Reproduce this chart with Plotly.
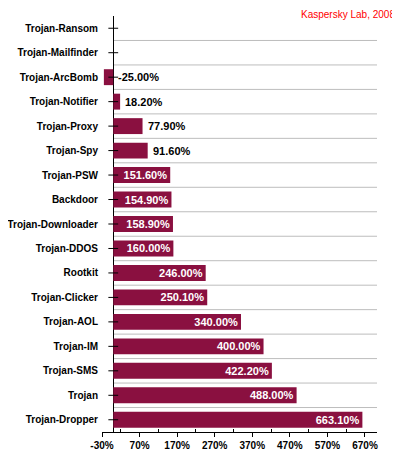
import plotly.graph_objects as go

categories = ["Trojan-Ransom", "Trojan-Mailfinder", "Trojan-ArcBomb", "Trojan-Notifier",
              "Trojan-Proxy", "Trojan-Spy", "Trojan-PSW", "Backdoor", "Trojan-Downloader",
              "Trojan-DDOS", "Rootkit", "Trojan-Clicker", "Trojan-AOL", "Trojan-IM",
              "Trojan-SMS", "Trojan", "Trojan-Dropper"]
growth = [None, None, -25.0, 18.2, 77.9, 91.6, 151.6, 154.9, 158.9, 160.0, 246.0,
          250.1, 340.0, 400.0, 422.2, 488.0, 663.1]
x_tick_values = [-30, 70, 170, 270, 370, 470, 570, 670]
x_tick_labels = ["-30%", "70%", "170%", "270%", "370%", "470%", "570%", "670%"]
source_label = "Kaspersky Lab, 2008"

XMIN, XMAX = -30, 702
BAR_COLOR = "#8a1040"
FONT = "Liberation Sans, Arial, sans-serif"
INSIDE_MIN = 150
N = len(categories)

inside_text = [f"{v:.2f}%" if (v is not None and v >= INSIDE_MIN) else "" for v in growth]

fig = go.Figure()
fig.add_trace(go.Bar(
    x=growth, y=categories, orientation="h",
    marker=dict(color=BAR_COLOR, line=dict(width=0)),
    text=inside_text, textposition="inside", insidetextanchor="end",
    textfont=dict(family=FONT, size=11, color="white", weight="bold"),
    constraintext="none", cliponaxis=False, hoverinfo="x+y",
))
# tick crosses on the vertical axis at zero
fig.add_trace(go.Scatter(
    x=[0] * N, y=categories, mode="markers",
    marker=dict(symbol="line-ew", size=7, line=dict(color="black", width=1)),
    hoverinfo="skip", showlegend=False, cliponaxis=False,
))

shapes = []
for i in range(N - 1):
    shapes.append(dict(type="line", xref="x", yref="y", x0=0, x1=XMAX,
                       y0=i + 0.5, y1=i + 0.5, line=dict(color="#bdbdbd", width=1),
                       layer="below"))

annotations = []
for c, v in zip(categories, growth):
    if v is not None and v < INSIDE_MIN:
        annotations.append(dict(x=max(v, 0), y=c, xref="x", yref="y", text=f"{v:.2f}%",
                                showarrow=False, xanchor="left", xshift=3,
                                font=dict(family=FONT, size=11, color="black", weight="bold")))

annotations.append(dict(text=source_label, xref="paper", yref="paper", x=1, y=1,
                        xanchor="right", yanchor="middle", xshift=20, yshift=2,
                        showarrow=False,
                        font=dict(family=FONT, size=10, color="#ff0000")))

fig.update_layout(
    width=392, height=442,
    autosize=False,
    margin=dict(l=94, r=23, t=8, b=18, pad=0, autoexpand=False),
    paper_bgcolor="white", plot_bgcolor="white",
    bargap=0.35, showlegend=False,
    shapes=shapes, annotations=annotations,
    xaxis=dict(range=[XMIN, XMAX], tickmode="array", tickvals=x_tick_values,
               ticktext=x_tick_labels, ticks="outside", ticklen=4, tickcolor="black",
               showline=True, linecolor="black", linewidth=1, showgrid=False,
               zeroline=True, zerolinecolor="black", zerolinewidth=1, automargin=False,
               tickfont=dict(family=FONT, size=10, color="black", weight="bold"),
               minor=dict(tick0=20, dtick=100, ticks="inside", ticklen=3, tickcolor="black"),
               fixedrange=True),
    yaxis=dict(type="category", range=[N - 0.5, -0.5], showgrid=False, ticks="",
               showline=False, zeroline=False, ticklabelstandoff=3, automargin=False,
               tickfont=dict(family=FONT, size=10, color="black", weight="bold"),
               fixedrange=True),
)

fig.write_html("out.html")
